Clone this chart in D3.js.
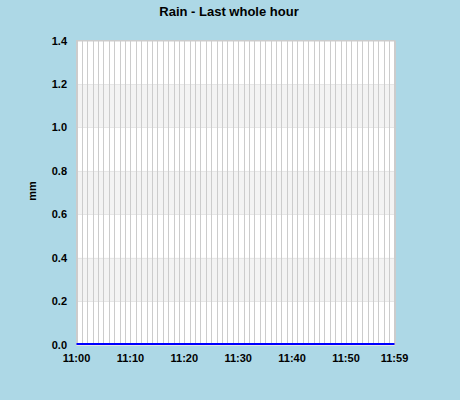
<!DOCTYPE html>
<html><head><meta charset="utf-8">
<script src="https://cdn.jsdelivr.net/npm/d3@7"></script>
<style>
html,body{margin:0;padding:0;background:#add8e6;}
svg{display:block;font-family:"Liberation Sans",Arial,sans-serif;}
</style></head>
<body>
<script>
// Data
const minutes = d3.range(0, 60); // 11:00 .. 11:59
const rain = [0,0,0,0,0,0,0,0,0,0, 0,0,0,0,0,0,0,0,0,0, 0,0,0,0,0,0,0,0,0,0,
              0,0,0,0,0,0,0,0,0,0, 0,0,0,0,0,0,0,0,0,0, 0,0,0,0,0,0,0,0,0,0];
const xTickMinutes = [0, 10, 20, 30, 40, 50, 59];
const xTickLabels = ["11:00","11:10","11:20","11:30","11:40","11:50","11:59"];
const yTicks = [0, 0.2, 0.4, 0.6, 0.8, 1.0, 1.2, 1.4];
const title = "Rain - Last whole hour";
const yLabel = "mm";

const W = 460, H = 400;
const m = {left: 76.5, right: 65.5, top: 40.5, bottom: 55.5};
const svg = d3.select("body").append("svg").attr("width", W).attr("height", H);
svg.append("rect").attr("width", W).attr("height", H).attr("fill", "#add8e6");

const x = d3.scaleLinear().domain([0, 59]).range([m.left, W - m.right]);
const y = d3.scaleLinear().domain([0, 1.4]).range([H - m.bottom, m.top]);

// plot background
svg.append("rect").attr("x", x(0)).attr("y", y(1.4)).attr("width", x(59) - x(0)).attr("height", y(0) - y(1.4)).attr("fill", "#fff");
// alternating bands
const bands = [[0.2,0.4],[0.6,0.8],[1.0,1.2]];
svg.selectAll("rect.band").data(bands).enter().append("rect").attr("class","band")
  .attr("x", x(0)).attr("width", x(59)-x(0))
  .attr("y", d => y(d[1])).attr("height", d => y(d[0]) - y(d[1]))
  .attr("fill", "#f3f3f3");
// horizontal grid
svg.selectAll("line.hg").data(yTicks).enter().append("line").attr("class","hg")
  .attr("x1", x(0)).attr("x2", x(59))
  .attr("y1", d => Math.round(y(d)) + 0.5).attr("y2", d => Math.round(y(d)) + 0.5)
  .attr("stroke", "#e6e6e6");
// vertical grid
svg.selectAll("line.vg").data(minutes).enter().append("line").attr("class","vg")
  .attr("x1", d => Math.round(x(d)) + 0.5).attr("x2", d => Math.round(x(d)) + 0.5)
  .attr("y1", y(1.4)).attr("y2", y(0))
  .attr("stroke", "#cccccc");
// border
svg.append("rect").attr("x", x(0)).attr("y", y(1.4)).attr("width", x(59)-x(0)).attr("height", y(0)-y(1.4))
  .attr("fill", "none").attr("stroke", "#cccccc");

// line
svg.append("path").datum(rain)
  .attr("d", d3.line().x((d,i) => x(minutes[i])).y(d => y(d) - 0.5))
  .attr("fill", "none").attr("stroke", "#0000ff").attr("stroke-width", 2);

// y axis labels
svg.selectAll("text.yt").data(yTicks).enter().append("text").attr("class","yt")
  .attr("x", 67).attr("y", d => y(d) + 4)
  .attr("text-anchor", "end").attr("font-size", 11).attr("font-weight", "bold")
  .text(d => d.toFixed(1));
// x axis labels
svg.selectAll("text.xt").data(xTickMinutes).enter().append("text").attr("class","xt")
  .attr("x", d => x(d)).attr("y", 362)
  .attr("text-anchor", "middle").attr("font-size", 11).attr("font-weight", "bold")
  .text((d,i) => xTickLabels[i]);

// title
svg.append("text").attr("x", 229).attr("y", 16).attr("text-anchor","middle")
  .attr("font-size", 13).attr("font-weight","bold").text(title);
// y label
svg.append("text").attr("transform", "translate(36,191) rotate(-90)").attr("text-anchor","middle")
  .attr("font-size", 11).attr("font-weight","bold").text(yLabel);
</script>
</body></html>
